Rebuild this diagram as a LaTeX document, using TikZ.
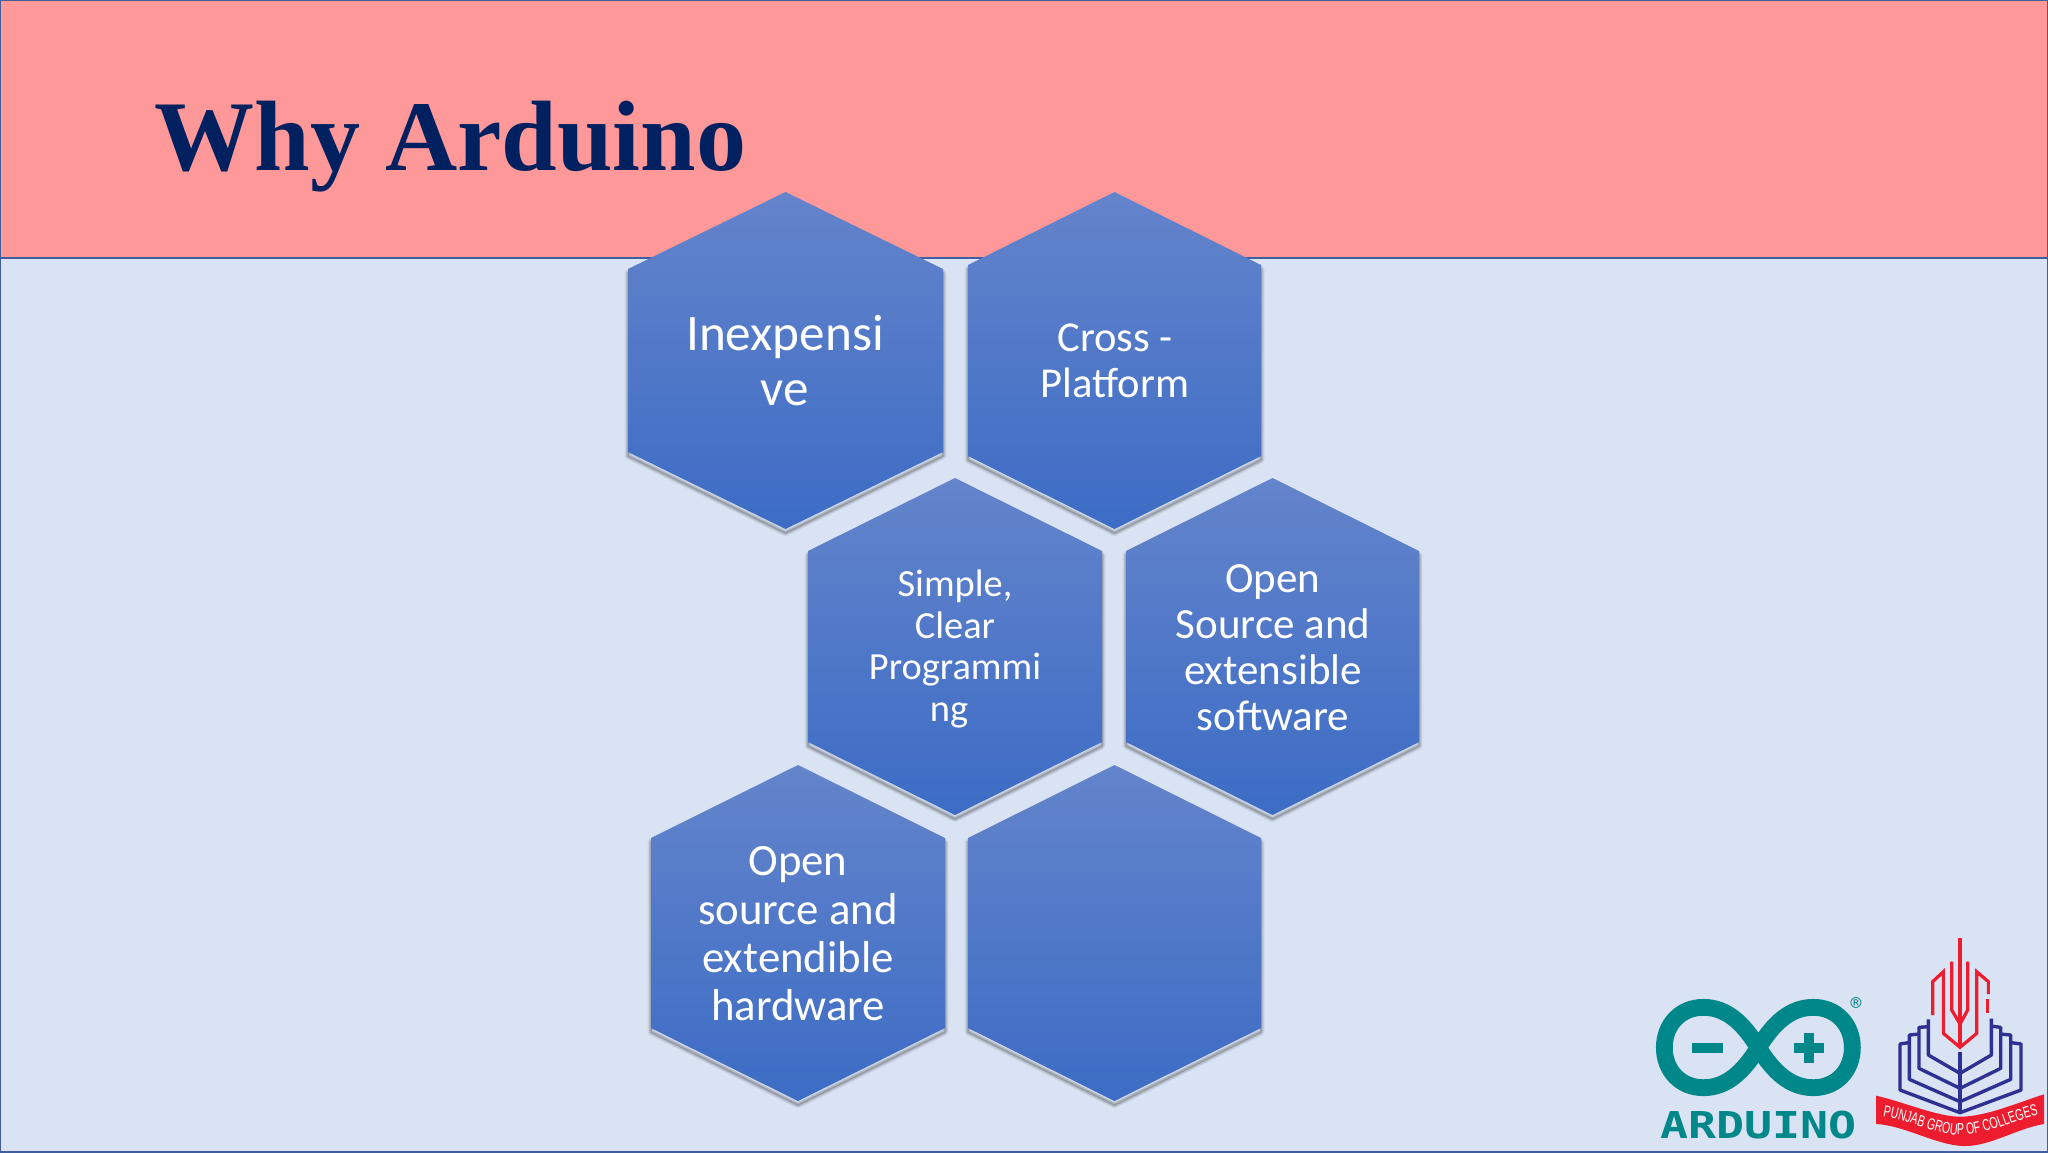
\documentclass[tikz,border=0pt]{standalone}
\usepackage{fontspec}
\usetikzlibrary{decorations.text}
\setmainfont{Carlito}
\newfontfamily\titlefont{Liberation Serif}
\newfontfamily\logomono{DejaVu Sans Mono}
\newfontfamily\logonarrow[FakeStretch=0.66]{Liberation Sans}
\definecolor{slidebg}{HTML}{DAE3F3}
\definecolor{headbg}{HTML}{FF9999}
\definecolor{edgeblue}{HTML}{3F5EA0}
\definecolor{hextop}{HTML}{6484CB}
\definecolor{hexbot}{HTML}{3C6CC5}
\definecolor{titleblue}{HTML}{002060}
\definecolor{ateal}{HTML}{00878A}
\definecolor{pgcred}{HTML}{ED1C2E}
\definecolor{pgcblue}{HTML}{2E3192}
\tikzset{
  hexlabel/.style={text=white,align=center,inner sep=0pt},
  redline/.style={draw=pgcred,line width=1.6pt,line join=miter},
  blueline/.style={draw=pgcblue,line width=1.7pt,line join=round},
  tealline/.style={draw=ateal,line width=8.4pt},
}
% left right top bottom corner-offset
\newcommand{\hexshape}[5]{%
  \def\hexpath{(#1,#3+#5) -- ({(#1+#2)/2},#3) -- (#2,#3+#5) -- (#2,#4-#5) -- ({(#1+#2)/2},#4) -- (#1,#4-#5) -- cycle}%
  \foreach \w/\o in {7/.04,5.5/.05,4/.07,2.5/.09,1/.12}{%
    \draw[black,opacity=\o,line width=\w*0.5pt,line join=round,yshift=-2pt] \hexpath;
  }%
  \shade[top color=hextop,bottom color=hexbot] \hexpath;
}
\begin{document}
\begin{tikzpicture}[x=0.5pt,y=-0.5pt]
\useasboundingbox (0,0) rectangle (2048,1152);
\fill[slidebg] (0,0) rectangle (2048,1152);
\fill[headbg] (0,0) rectangle (2048,258);
\draw[edgeblue,line width=1pt] (0,258) -- (2048,258);
\draw[edgeblue,line width=1.2pt] (0,0) rectangle (2048,1152);
\node[anchor=base west,inner sep=0pt,text=titleblue,font=\titlefont\bfseries\fontsize{50pt}{60pt}\selectfont] (title) at (154,170) {Why Arduino};

\hexshape{628}{943}{192}{529}{77}
\hexshape{968}{1261}{192}{529}{73}
\hexshape{808}{1102}{478}{815}{73}
\hexshape{1126}{1419}{478}{815}{73}
\hexshape{651}{945}{765}{1101}{73}
\hexshape{968}{1261}{765}{1101}{73}

\node[hexlabel,font=\fontsize{25.6pt}{27.5pt}\selectfont] (h1) at (785,361) {Inexpensi\\ve};
\node[hexlabel,font=\fontsize{21.3pt}{23pt}\selectfont] (h2) at (1115,361) {Cross -\\Platform};
\node[hexlabel,font=\fontsize{19.2pt}{20.8pt}\selectfont] (h3) at (955,649) {Simple,\\Clear\\Programmi\\ng\hspace*{6pt}};
\node[hexlabel,font=\fontsize{21.5pt}{23pt}\selectfont] (h4) at (1273,648) {Open\\Source and\\extensible\\software};
\node[hexlabel,font=\fontsize{22.4pt}{24.2pt}\selectfont] (h5) at (798,934) {Open\\source and\\extendible\\hardware};

% Logos, drawn in the coordinates of a 3x crop
\begin{scope}[shift={(1620,920)},x=0.16667pt,y=-0.16667pt]
  % Arduino
  \draw[tealline] (415,383) .. controls (370,310) and (320,262) .. (250,262) .. controls (180,262) and (133,315) .. (133,383) .. controls (133,450) and (180,503) .. (250,503) .. controls (320,503) and (370,455) .. (415,383)
     .. controls (460,310) and (510,262) .. (580,262) .. controls (650,262) and (697,315) .. (697,383) .. controls (697,450) and (650,503) .. (580,503) .. controls (510,503) and (460,455) .. (415,383);
  \fill[ateal] (217,368) rectangle (309,398);
  \fill[ateal] (521,368) rectangle (613,398);
  \fill[ateal] (552,338) rectangle (582,430);
  \node[inner sep=0pt,text=ateal,font=\logomono\fontsize{9pt}{10pt}\selectfont] (regmark) at (708,252) {®};
  \node[inner sep=0pt,anchor=base,text=ateal,font=\logomono\bfseries\fontsize{18.5pt}{20pt}\selectfont,xscale=1.26] (ardtext) at (415,655) {ARDUINO};
  % red tower
  \draw[redline] (1020,55) -- (1020,382);
  \draw[redline] (995,125) -- (995,270) -- (1020,312) -- (1043,270) -- (1043,125);
  \draw[redline] (938,285) -- (938,185) -- (970,155) -- (970,340) -- (1020,382) -- (1070,340) -- (1070,155) -- (1105,185) -- (1105,222);
  \draw[redline] (1103,238) -- (1103,280);
  % blue book
  \draw[blueline] (865,368) -- (840,372) -- (840,510) -- (1020,578) -- (1203,510) -- (1203,372) -- (1175,368);
  \draw[blueline] (897,342) -- (868,345) -- (868,478) -- (1020,545) -- (1172,478) -- (1172,345) -- (1142,342);
  \draw[blueline] (925,320) -- (897,322) -- (897,445) -- (1020,505) -- (1142,445) -- (1142,322) -- (1112,318);
  \draw[blueline] (925,298) -- (925,405) -- (1020,460) -- (1114,405) -- (1114,296);
  \draw[blueline] (1020,395) -- (1020,578);
  % banner
  \fill[pgcred] (768,527) .. controls (850,545) and (950,590) .. (1020,590) .. controls (1100,590) and (1200,545) .. (1272,523) -- (1272,612) .. controls (1190,625) and (1110,680) .. (1030,678) .. controls (950,676) and (850,615) .. (768,612) -- cycle;
  \path[postaction={decorate,decoration={text along path,text align=center,text color=white,
     text={|\logonarrow\fontsize{8pt}{9pt}\selectfont|PUNJAB GROUP OF COLLEGES}}}]
     (778,588) .. controls (870,600) and (950,645) .. (1025,645) .. controls (1100,645) and (1180,600) .. (1266,583);
\end{scope}
\end{tikzpicture}
\end{document}
